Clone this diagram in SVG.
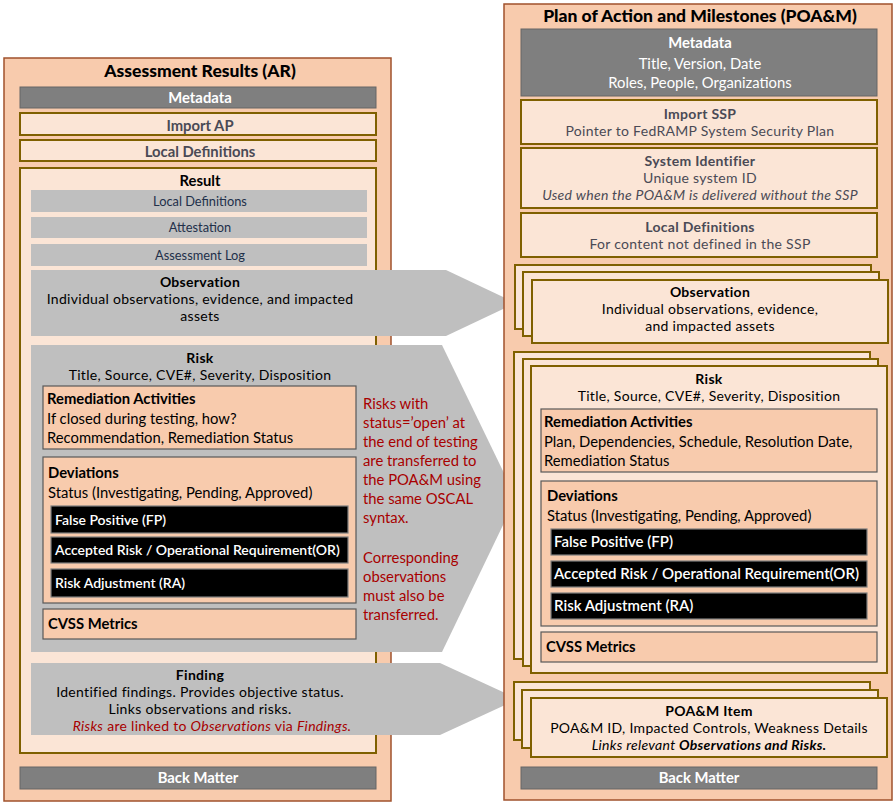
<svg xmlns="http://www.w3.org/2000/svg" width="896" height="804" viewBox="0 0 896 804">
<style>
text{font-family:Lato,"Liberation Sans",sans-serif;font-size:14.8px;fill:#000}
.c{text-anchor:middle}
.b{font-weight:bold}
.s{font-size:14px;letter-spacing:0.3px}
.t{font-size:17.5px;font-weight:900}
.outer{fill:#F8CBAD;stroke:#A0522D;stroke-width:1.5}
.in{fill:#FBE5D6;stroke:#7F6000;stroke-width:2}
.meta{fill:#7F7F7F;stroke:#666;stroke-width:1}
.bar{fill:#BFBFBF}
.sub{fill:#F8CBAD;stroke:#595959;stroke-width:1.2}
.blk{fill:#000;stroke:#7F7F7F;stroke-width:1.2}
.wt{fill:#fff;font-weight:bold}
.bt{fill:#fff;font-size:14px;font-weight:600}
.gt{fill:#4a4a55}
.nv{fill:#22304a;font-size:12.8px}
.red{fill:#A80000}
.arrow{fill:#BFBFBF}
</style>

<g id="ar">
  <rect class="outer" x="4" y="58" width="387" height="743"/>
  <text class="c t" x="200" y="77">Assessment Results (AR)</text>
</g>
<g id="ar-metadata">
  <rect class="meta" x="20" y="87" width="356" height="21"/>
  <text class="c wt" x="200" y="103">Metadata</text>
</g>
<g id="ar-import-ap">
  <rect class="in" x="20" y="113" width="356" height="22"/>
  <text class="c b gt" x="200" y="131">Import AP</text>
</g>
<g id="ar-local-definitions">
  <rect class="in" x="20" y="140" width="356" height="21"/>
  <text class="c b gt" x="200" y="157">Local Definitions</text>
</g>
<g id="ar-result">
  <rect class="in" x="20" y="168" width="356" height="585"/>
  <text class="c b" x="200" y="186">Result</text>
</g>
<g id="result-local-definitions">
  <rect class="bar" x="31" y="190" width="336" height="22"/>
  <text class="c nv" x="200" y="205.5">Local Definitions</text>
</g>
<g id="result-attestation">
  <rect class="bar" x="31" y="217" width="336" height="21"/>
  <text class="c nv" x="200" y="232">Attestation</text>
</g>
<g id="result-assessment-log">
  <rect class="bar" x="31" y="244" width="336" height="22"/>
  <text class="c nv" x="200" y="259.5">Assessment Log</text>
</g>

<g id="connectors">
  <polygon class="arrow" points="31,270 446,270 516,303 446,336 31,336"/>
  <polygon class="arrow" points="31,345 442,345 516,498 442,652 31,652"/>
  <polygon class="arrow" points="31,663 440,663 518,699 440,735 31,735"/>
</g>

<g id="ar-observation">
  <text class="c b s" x="200" y="287">Observation</text>
  <text class="c s" x="200" y="304">Individual observations, evidence, and impacted</text>
  <text class="c s" x="200" y="321">assets</text>
</g>

<g id="ar-risk">
  <text class="c b s" x="200" y="362.5">Risk</text>
  <text class="c s" x="200" y="379.5">Title, Source, CVE#, Severity, Disposition</text>
</g>
<g id="ar-remediation">
  <rect class="sub" x="43" y="386" width="313" height="63"/>
  <text class="b" x="47" y="404">Remediation Activities</text>
  <text x="47" y="423.5">If closed during testing, how?</text>
  <text x="47" y="442.5">Recommendation, Remediation Status</text>
</g>
<g id="ar-deviations">
  <rect class="sub" x="43" y="457" width="313" height="146"/>
  <text class="b" x="48" y="478">Deviations</text>
  <text x="48" y="497.5">Status (Investigating, Pending, Approved)</text>
</g>
<g id="ar-fp">
  <rect class="blk" x="51" y="506" width="297" height="27"/>
  <text class="bt" x="55" y="524.5">False Positive (FP)</text>
</g>
<g id="ar-or">
  <rect class="blk" x="51" y="537" width="297" height="26"/>
  <text class="bt" x="55" y="555">Accepted Risk / Operational Requirement(OR)</text>
</g>
<g id="ar-ra">
  <rect class="blk" x="51" y="569" width="297" height="28"/>
  <text class="bt" x="55" y="588">Risk Adjustment (RA)</text>
</g>
<g id="ar-cvss">
  <rect class="sub" x="43" y="609" width="313" height="30"/>
  <text class="b" x="48" y="629">CVSS Metrics</text>
</g>

<g id="transfer-note">
  <text class="red" x="363" y="408.5">Risks with</text>
  <text class="red" x="363" y="427.5">status=’open’ at</text>
  <text class="red" x="363" y="446.5">the end of testing</text>
  <text class="red" x="363" y="465.5">are transferred to</text>
  <text class="red" x="363" y="484.5">the POA&amp;M using</text>
  <text class="red" x="363" y="503.5">the same OSCAL</text>
  <text class="red" x="363" y="522.5">syntax.</text>
  <text class="red" x="363" y="562.5">Corresponding</text>
  <text class="red" x="363" y="581.5">observations</text>
  <text class="red" x="363" y="600.5">must also be</text>
  <text class="red" x="363" y="619.5">transferred.</text>
</g>

<g id="ar-finding">
  <text class="c b s" x="200" y="680">Finding</text>
  <text class="c s" x="200" y="697">Identified findings. Provides objective status.</text>
  <text class="c s" x="200" y="714">Links observations and risks.</text>
  <text class="c red s" x="212" y="731"><tspan font-style="italic">Risks</tspan> are linked to <tspan font-style="italic">Observations</tspan> via <tspan font-style="italic">Findings.</tspan></text>
</g>
<g id="ar-back-matter">
  <rect class="meta" x="20" y="767" width="356" height="22"/>
  <text class="c wt" x="198" y="783">Back Matter</text>
</g>

<g id="poam">
  <rect class="outer" x="504" y="4" width="388" height="796"/>
  <text class="c t" x="700" y="22">Plan of Action and Milestones (POA&amp;M)</text>
</g>
<g id="poam-metadata">
  <rect class="meta" x="521" y="29" width="356" height="67"/>
  <text class="c wt" x="700" y="48">Metadata</text>
  <text class="c" style="fill:#fff" x="700" y="68.5">Title, Version, Date</text>
  <text class="c" style="fill:#fff" x="700" y="87.5">Roles, People, Organizations</text>
</g>
<g id="poam-import-ssp">
  <rect class="in" x="521" y="100" width="356" height="44"/>
  <text class="c b gt s" x="700" y="118.5">Import SSP</text>
  <text class="c gt s" x="700" y="135.5">Pointer to FedRAMP System Security Plan</text>
</g>
<g id="poam-system-id">
  <rect class="in" x="521" y="148" width="356" height="60"/>
  <text class="c b gt s" x="700" y="166">System Identifier</text>
  <text class="c gt s" x="700" y="183">Unique system ID</text>
  <text class="c gt s" font-style="italic" x="700" y="200">Used when the POA&amp;M is delivered without the SSP</text>
</g>
<g id="poam-local-definitions">
  <rect class="in" x="521" y="213" width="356" height="44"/>
  <text class="c b gt s" x="700" y="231.5">Local Definitions</text>
  <text class="c gt s" x="700" y="248.5">For content not defined in the SSP</text>
</g>
<g id="poam-observation">
  <rect class="in" x="515" y="265" width="356" height="64"/>
  <rect class="in" x="523" y="272" width="356" height="64"/>
  <rect class="in" x="532" y="280" width="356" height="63"/>
  <text class="c b s" x="710" y="297">Observation</text>
  <text class="c s" x="710" y="314">Individual observations, evidence,</text>
  <text class="c s" x="710" y="331">and impacted assets</text>
</g>
<g id="poam-risk">
  <rect class="in" x="514" y="352" width="356" height="307"/>
  <rect class="in" x="523" y="359" width="355" height="307"/>
  <rect class="in" x="531" y="366" width="356" height="307"/>
  <text class="c b s" x="709" y="383.5">Risk</text>
  <text class="c s" x="709" y="400.5">Title, Source, CVE#, Severity, Disposition</text>
</g>
<g id="poam-remediation">
  <rect class="sub" x="541" y="409" width="336" height="63"/>
  <text class="b" x="544" y="427">Remediation Activities</text>
  <text x="544" y="446.5">Plan, Dependencies, Schedule, Resolution Date,</text>
  <text x="544" y="465.5">Remediation Status</text>
</g>
<g id="poam-deviations">
  <rect class="sub" x="541" y="481" width="336" height="145"/>
  <text class="b" x="547" y="501">Deviations</text>
  <text x="547" y="520.5">Status (Investigating, Pending, Approved)</text>
</g>
<g id="poam-fp">
  <rect class="blk" x="551" y="529" width="316" height="26"/>
  <text class="bt" style="font-size:15px" x="554" y="547">False Positive (FP)</text>
</g>
<g id="poam-or">
  <rect class="blk" x="551" y="561" width="316" height="26"/>
  <text class="bt" style="font-size:15px" x="554" y="579">Accepted Risk / Operational Requirement(OR)</text>
</g>
<g id="poam-ra">
  <rect class="blk" x="551" y="593" width="316" height="26"/>
  <text class="bt" style="font-size:15px" x="554" y="611">Risk Adjustment (RA)</text>
</g>
<g id="poam-cvss">
  <rect class="sub" x="541" y="632" width="336" height="30"/>
  <text class="b" x="546" y="652">CVSS Metrics</text>
</g>
<g id="poam-item">
  <rect class="in" x="514" y="682" width="356" height="58"/>
  <rect class="in" x="522" y="690" width="356" height="58"/>
  <rect class="in" x="531" y="698" width="356" height="59"/>
  <text class="c b s" x="709" y="716">POA&amp;M Item</text>
  <text class="c s" x="709" y="733">POA&amp;M ID, Impacted Controls, Weakness Details</text>
  <text class="c s" font-style="italic" x="709" y="750">Links relevant <tspan font-weight="bold">Observations and Risks.</tspan></text>
</g>
<g id="poam-back-matter">
  <rect class="meta" x="521" y="767" width="356" height="22"/>
  <text class="c wt" x="699" y="783">Back Matter</text>
</g>
</svg>
